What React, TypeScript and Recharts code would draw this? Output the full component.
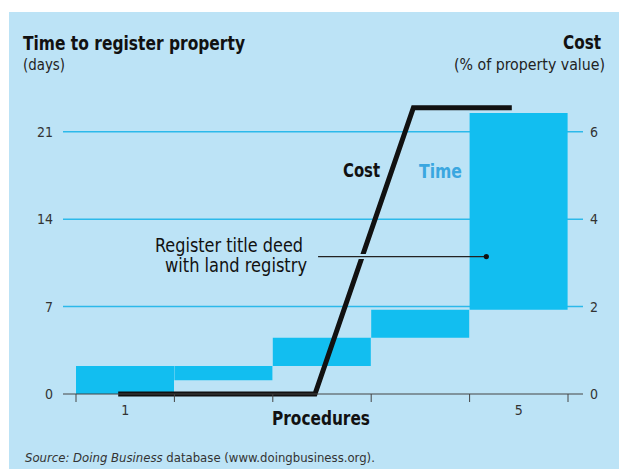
import React from "react";
import {
  Bar,
  CartesianGrid,
  ComposedChart,
  Line,
  ReferenceDot,
  ReferenceLine,
  XAxis,
  YAxis,
} from "recharts";

const procedures = [1, 2, 3, 4, 5];
const timeStart = [0, 1.1, 2.25, 4.5, 6.75];
const timeEnd = [2.25, 2.25, 4.5, 6.75, 22.5];
const costPct = [0, 0, 0, 6.55, 6.55];
const timeTicks = [0, 7, 14, 21];
const timeGrid = [7, 14, 21];
const costTicks = [0, 2, 4, 6];
// tick marks sit between the procedures, labels only on 1 and 5
const procTicks = [0.5, 1, 1.5, 2.5, 3.5, 4.5, 5, 5.5];
const labelledProcs = [1, 5];

// annotation: "Register title deed with land registry" points at step 5
const noteDays = 11;
const noteFrom = 2.96;
const noteTo = 4.67;

const rows = procedures.map((p, i) => ({
  proc: p,
  time: [timeStart[i], timeEnd[i]],
  cost: costPct[i],
}));

const BG = "#bce3f6";
const CYAN = "#12bef0";
const GRID = "#2cb9ea";
const INK = "#111";
const FONT = "'DejaVu Sans Condensed', 'Liberation Sans Narrow', 'Roboto Condensed', sans-serif";

const tickStyle = { fill: "#333", fontSize: 14, fontFamily: FONT };

function ProcTick(props: any) {
  const { x, y, payload } = props;
  const v = payload.value;
  if (labelledProcs.includes(v)) {
    return (
      <text x={x} y={y + 21} textAnchor="middle" fill="#333" fontSize={14} fontFamily={FONT}>
        {v}
      </text>
    );
  }
  return <line x1={x} y1={y} x2={x} y2={y + 8} stroke="#444" strokeWidth={1} />;
}

export default function App() {
  return (
    <div style={{ position: "absolute", left: 0, top: 0, width: 619, height: 469, background: "#fff" }}>
      <div style={{ position: "absolute", left: 9, top: 12, width: 610, height: 457, background: BG }} />
      <div style={{ position: "absolute", left: 0, top: 0 }}>
        <ComposedChart
          width={619}
          height={469}
          data={rows}
          margin={{ top: 88, right: 0, bottom: 45, left: 0 }}
          barCategoryGap={0}
          barGap={0}
        >
          <CartesianGrid
            xAxisId="proc"
            yAxisId="time"
            vertical={false}
            horizontalValues={timeGrid}
            stroke={GRID}
            strokeWidth={1.5}
          />
          <XAxis
            xAxisId="costX"
            dataKey="proc"
            type="number"
            orientation="top"
            domain={[0.5, 5.5]}
            allowDataOverflow
            hide
            height={0}
            padding={{ left: 6, right: 22 }}
          />
          <XAxis
            xAxisId="proc"
            dataKey="proc"
            type="number"
            domain={[0.5, 5.5]}
            ticks={procTicks}
            allowDataOverflow
            height={30}
            padding={{ left: 13, right: 15 }}
            axisLine={{ stroke: "#444" }}
            tickLine={false}
            tickSize={0}
            tickMargin={0}
            tick={<ProcTick />}
            interval={0}
          />
          <YAxis
            yAxisId="time"
            orientation="left"
            width={63}
            domain={[0, 24.5]}
            ticks={timeTicks}
            axisLine={false}
            tickLine={false}
            tickMargin={4}
            tick={tickStyle}
          />
          <YAxis
            yAxisId="cost"
            orientation="right"
            width={36}
            domain={[0, 7]}
            ticks={costTicks}
            axisLine={false}
            tickLine={false}
            tickMargin={1}
            tick={tickStyle}
          />
          <Bar xAxisId="proc" yAxisId="time" dataKey="time" fill={CYAN} isAnimationActive={false} />
          <Line
            xAxisId="costX"
            yAxisId="cost"
            type="linear"
            dataKey="cost"
            stroke={INK}
            strokeWidth={5}
            strokeLinecap="butt"
            strokeLinejoin="miter"
            dot={false}
            activeDot={false}
            isAnimationActive={false}
          />
          <ReferenceLine
            xAxisId="proc"
            yAxisId="time"
            segment={[{ x: noteFrom + 0.3, y: noteDays }, { x: 4.0, y: noteDays }]}
            stroke={BG}
            strokeWidth={5}
          />
          <ReferenceLine
            xAxisId="proc"
            yAxisId="time"
            segment={[{ x: noteFrom, y: noteDays }, { x: noteTo, y: noteDays }]}
            stroke="#222"
            strokeWidth={1.2}
          />
          <ReferenceDot
            xAxisId="proc"
            yAxisId="time"
            x={noteTo}
            y={noteDays}
            r={2.6}
            fill={INK}
            stroke="none"
          />
        </ComposedChart>
      </div>
      <svg
        width={619}
        height={469}
        style={{ position: "absolute", left: 0, top: 0, pointerEvents: "none" }}
        fontFamily={FONT}
      >
        <text x={23} y={50} fontSize={19} fontWeight="bold" fill={INK} textLength={222} lengthAdjust="spacingAndGlyphs">
          Time to register property
        </text>
        <text x={23} y={70} fontSize={16} fill="#222" textLength={42} lengthAdjust="spacingAndGlyphs">
          (days)
        </text>
        <text x={563} y={49} fontSize={19} fontWeight="bold" fill={INK} textLength={38} lengthAdjust="spacingAndGlyphs">
          Cost
        </text>
        <text x={454} y={70} fontSize={16} fill="#222" textLength={151} lengthAdjust="spacingAndGlyphs">
          (% of property value)
        </text>
        <text x={343} y={177} fontSize={19} fontWeight="bold" fill={INK} textLength={37} lengthAdjust="spacingAndGlyphs">
          Cost
        </text>
        <text x={419} y={178} fontSize={19} fontWeight="bold" fill="#3aa7e0" textLength={43} lengthAdjust="spacingAndGlyphs">
          Time
        </text>
        <text x={155} y={252} fontSize={19} fill={INK} textLength={148} lengthAdjust="spacingAndGlyphs">
          Register title deed
        </text>
        <text x={165} y={272} fontSize={19} fill={INK} textLength={142} lengthAdjust="spacingAndGlyphs">
          with land registry
        </text>
        <text x={272} y={425} fontSize={19} fontWeight="bold" fill={INK} textLength={98} lengthAdjust="spacingAndGlyphs">
          Procedures
        </text>
        <text x={25} y={462} fontSize={13} fill="#333">
          <tspan fontStyle="italic">Source: Doing Business</tspan> database (www.doingbusiness.org).
        </text>
      </svg>
    </div>
  );
}
